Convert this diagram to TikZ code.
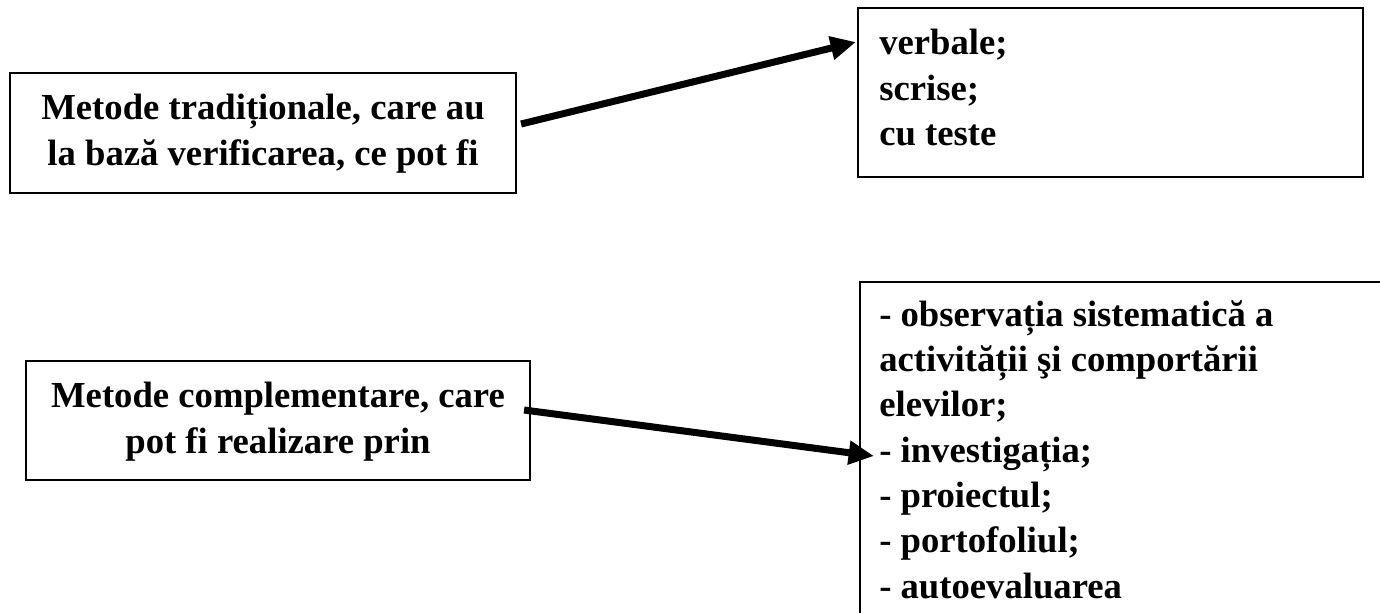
\documentclass[tikz,border=0pt]{standalone}
\usepackage{fontspec}
\setmainfont{Liberation Serif}
\usetikzlibrary{arrows.meta}

\begin{document}
\begin{tikzpicture}[x=0.75pt, y=-0.75pt,
        box/.style={draw, line width=1.6pt, inner sep=0pt},
        txt/.style={inner sep=0pt, font=\bfseries\fontsize{27.5}{34}\selectfont},
        link/.style={line width=5.25pt, -{Triangle[length=19pt, width=17pt]}}]
        \clip (0, 0) rectangle (1380, 612);
        \fill[white] (0, 0) rectangle (1380, 612);
        \node[box, minimum width=379.5pt, minimum height=90pt] (trad) at (263, 133) {};
        \node[box, minimum width=378.75pt, minimum height=126.75pt] (tipuri) at (1110.5, 92.5) {};
        \node[box, minimum width=378pt, minimum height=89.25pt] (compl) at (278, 420.5) {};
        \node[box, anchor=north west, minimum width=450pt, minimum height=300pt] (forme) at (859, 281) {};
        \node[txt, anchor=north, align=center] (tradtext) at (263, 94) {Metode tradiționale, care au\\la bază verificarea, ce pot fi};
        \node[txt, anchor=north west, align=left] (tipuritext) at (879, 29) {verbale;\\scrise;\\cu teste};
        \node[txt, anchor=north, align=center] (compltext) at (278, 382) {Metode complementare, care\\pot fi realizare prin};
        \node[txt, anchor=north west, align=left] (formetext) at (879, 300) {- observația sistematică a\\activității şi comportării\\elevilor;\\- investigația;\\- proiectul;\\- portofoliul;\\- autoevaluarea};
        \draw[link] ([shift={(4, -9)}]trad.east) -- ([shift={(-1, -50.5)}]tipuri.west);
        \draw[link] ([shift={(-7, -10.5)}]compl.east) -- ([shift={(15, 175)}]forme.north west);
\end{tikzpicture}
\end{document}
